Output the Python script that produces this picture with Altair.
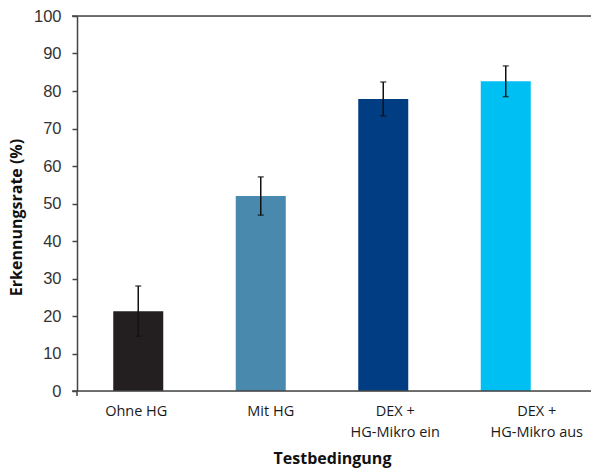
import altair as alt
import pandas as pd

categories = ["Ohne HG", "Mit HG", "DEX + HG-Mikro ein", "DEX + HG-Mikro aus"]
values = [21.3, 52.0, 77.9, 82.6]
errors = [6.7, 5.1, 4.5, 4.1]
colors = ["#231f20", "#4a89ae", "#003d82", "#00c0f3"]
yticks = [0, 10, 20, 30, 40, 50, 60, 70, 80, 90, 100]

df = pd.DataFrame({
    "cat": categories,
    "val": values,
    "lo": [v - e for v, e in zip(values, errors)],
    "hi": [v + e for v, e in zip(values, errors)],
    "col": colors,
})

W, H = 514, 375

label_expr = ("datum.value == 'DEX + HG-Mikro ein' ? ['DEX +', 'HG-Mikro ein'] : "
              "datum.value == 'DEX + HG-Mikro aus' ? ['DEX +', 'HG-Mikro aus'] : datum.value")
offset_expr = ("datum.value == 'Ohne HG' ? -2 : datum.value == 'Mit HG' ? 10 : "
               "datum.value == 'DEX + HG-Mikro ein' ? 12 : 31")

xscale = alt.Scale(domain=categories, range=[0, 490])
xaxis = alt.Axis(title="Testbedingung", labelAngle=0, ticks=False, domain=False,
                 labelExpr=label_expr, labelOffset=alt.ExprRef(offset_expr),
                 labelFont="Open Sans", labelFontSize=14.5, labelColor="#1a1a1a",
                 labelPadding=13, labelLineHeight=21,
                 titleFont="Open Sans", titleFontSize=16, titleFontWeight="bold",
                 titleColor="#111111", titleX=255, titleY=72, titleBaseline="alphabetic")
yscale = alt.Scale(domain=[0, 100], nice=False)
yaxis = alt.Axis(title="Erkennungsrate (%)", values=yticks, labelOverlap=False,
                 grid=False, tickSize=5, tickColor="#444444", domainColor="#444444",
                 domainWidth=1.5, tickWidth=1.5,
                 labelFont="Liberation Sans", labelFontSize=16.5, labelColor="#333333",
                 labelPadding=11,
                 titleFont="Open Sans", titleFontSize=16, titleFontWeight="bold",
                 titleColor="#111111", titleAngle=-90, titleX=-61, titleY=201,
                 titleAlign="center", titleBaseline="middle")

xe = alt.X("cat:N", scale=xscale, sort=categories, axis=xaxis)

bars = alt.Chart(df).mark_bar(size=50).encode(
    x=xe, y=alt.Y("val:Q", scale=yscale, axis=yaxis), color=alt.Color("col:N", scale=None))

err = alt.Chart(df).mark_rule(color="#111111", strokeWidth=1.5).encode(
    x=xe, y=alt.Y("lo:Q", scale=yscale, axis=yaxis), y2="hi:Q")
cap_lo = alt.Chart(df).mark_tick(color="#111111", thickness=1.5, size=6, orient="horizontal").encode(
    x=xe, y=alt.Y("lo:Q", scale=yscale, axis=yaxis))
cap_hi = alt.Chart(df).mark_tick(color="#111111", thickness=1.5, size=6, orient="horizontal").encode(
    x=xe, y=alt.Y("hi:Q", scale=yscale, axis=yaxis))

frame = pd.DataFrame({"yv": [0, 100]})
hlines = alt.Chart(frame).mark_rule(color="#444444", strokeWidth=1.5).encode(
    y=alt.Y("yv:Q", scale=yscale, axis=yaxis), x=alt.value(-5), x2=alt.value(W))
vtick = alt.Chart(pd.DataFrame({"a": [0]})).mark_rule(color="#444444", strokeWidth=1.5).encode(
    x=alt.value(0), y=alt.value(H), y2=alt.value(H + 5))

chart = alt.layer(bars, err, cap_lo, cap_hi, hlines, vtick).properties(
    width=W, height=H,
    autosize=alt.AutoSizeParams(type="none"),
    padding={"left": 77, "top": 16, "right": 0, "bottom": 78},
).configure_view(stroke=None).configure(background="white")

chart.save("out.html", embed_options={"renderer": "svg", "actions": False})
